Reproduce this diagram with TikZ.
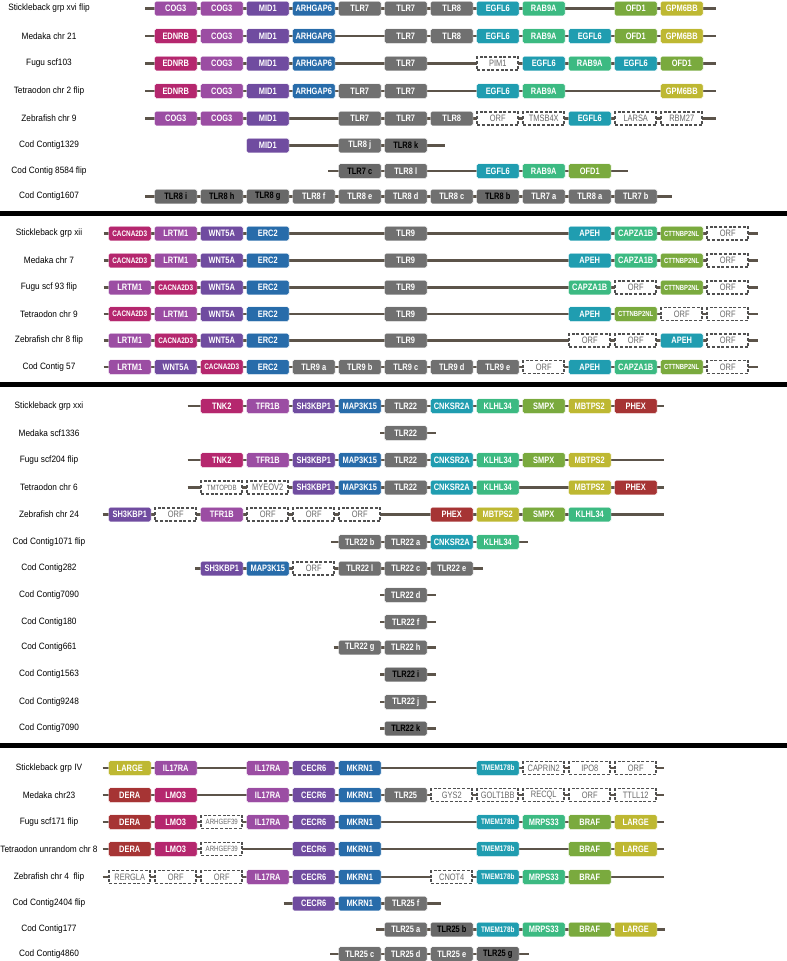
\documentclass[tikz,border=0pt]{standalone}
\usepackage{fontspec}
\setmainfont{Liberation Sans}
\newfontfamily\genefont[FakeStretch=0.8]{Liberation Sans}
\newfontfamily\rowfont[FakeStretch=0.9]{Liberation Sans}
\usepackage{tikz}
\usetikzlibrary{positioning}
\definecolor{genepink}{RGB}{181,39,110}
\definecolor{genepurple}{RGB}{155,77,163}
\definecolor{geneviolet}{RGB}{112,76,160}
\definecolor{geneblue}{RGB}{40,108,170}
\definecolor{genegray}{RGB}{112,112,112}
\definecolor{genedark}{RGB}{104,104,104}
\definecolor{geneteal}{RGB}{32,157,176}
\definecolor{genemint}{RGB}{60,186,130}
\definecolor{genegreen}{RGB}{122,170,62}
\definecolor{geneolive}{RGB}{190,184,50}
\definecolor{genered}{RGB}{166,52,52}
\definecolor{orfline}{RGB}{80,80,80}
\definecolor{orftext}{RGB}{105,105,105}
\definecolor{chromline}{RGB}{92,84,74}
\tikzset{
  gene/.style={rectangle, rounded corners=1.5pt, minimum width=42.5pt,
    minimum height=14.5pt, inner sep=0pt, draw=white, line width=0.4pt,
    text=white, font=\genefont\bfseries\fontsize{9.3}{10}\selectfont},
  gpk/.style={fill=genepink},
  gpks/.style={fill=genepink, font=\genefont\bfseries\fontsize{8}{9}\selectfont},
  gpu/.style={fill=genepurple},
  gvi/.style={fill=geneviolet},
  gbl/.style={fill=geneblue},
  ggy/.style={fill=genegray},
  gdk/.style={fill=genedark, text=black},
  gte/.style={fill=geneteal},
  gtes/.style={fill=geneteal, font=\genefont\bfseries\fontsize{8}{9}\selectfont},
  gmi/.style={fill=genemint},
  ggr/.style={fill=genegreen},
  ggrs/.style={fill=genegreen, font=\genefont\bfseries\fontsize{7.4}{8}\selectfont},
  gol/.style={fill=geneolive},
  grd/.style={fill=genered},
  gorf/.style={fill=white, draw=orfline, line width=1.7pt, dash pattern=on 3pt off 1.7pt,
    rounded corners=0pt, minimum width=41pt, minimum height=12.8pt, text=orftext,
    font=\genefont\fontsize{9.3}{10}\selectfont},
  gorfs/.style={gorf, font=\genefont\fontsize{7.6}{8}\selectfont},
  chrom/.style={draw=chromline, line width=2.8pt},
  divider/.style={draw=black, line width=5pt},
  lbl/.style={font=\rowfont\fontsize{9.2}{10}\selectfont, text=black}
}
% one chromosome row: id, y, west end, east end, label, slot/gene/style list
\newcommand{\generow}[6]{%
  \node[lbl] (#1) at (49,#2) {#5};
  \coordinate (#1w) at (#3,#2);
  \coordinate (#1e) at (#4,#2);
  \draw[chrom] (#1w) -- (#1e);
  \foreach \pos/\gname/\gstyle [count=\i] in {#6}
    \node[gene,\gstyle] (#1g\i) at ({175.75+46*\pos},#2) {\gname};
}

\begin{document}
\begin{tikzpicture}[x=1pt, y=-1pt]
  \useasboundingbox (0,0) rectangle (787,961);

  % TLR7 / TLR8 region
  \generow{stxvi}{8.5}{145}{716}{Stickleback grp xvi flip}{0/COG3/gpu, 1/COG3/gpu, 2/MID1/gvi, 3/ARHGAP6/gbl, 4/TLR7/ggy, 5/TLR7/ggy, 6/TLR8/ggy, 7/EGFL6/gte, 8/RAB9A/gmi, 10/OFD1/ggr, 11/GPM6BB/gol}
  \generow{mechr21}{36}{145}{716}{Medaka chr 21}{0/EDNRB/gpk, 1/COG3/gpu, 2/MID1/gvi, 3/ARHGAP6/gbl, 5/TLR7/ggy, 6/TLR8/ggy, 7/EGFL6/gte, 8/RAB9A/gmi, 9/EGFL6/gte, 10/OFD1/ggr, 11/GPM6BB/gol}
  \generow{fuscf103}{63.5}{145}{716}{Fugu scf103}{0/EDNRB/gpk, 1/COG3/gpu, 2/MID1/gvi, 3/ARHGAP6/gbl, 5/TLR7/ggy, 7/PIM1/gorf, 8/EGFL6/gte, 9/RAB9A/gmi, 10/EGFL6/gte, 11/OFD1/ggr}
  \generow{techr2}{91}{145}{716}{Tetraodon chr 2 flip}{0/EDNRB/gpk, 1/COG3/gpu, 2/MID1/gvi, 3/ARHGAP6/gbl, 4/TLR7/ggy, 5/TLR7/ggy, 7/EGFL6/gte, 8/RAB9A/gmi, 11/GPM6BB/gol}
  \generow{zechr9}{118.5}{145}{716}{Zebrafish chr 9}{0/COG3/gpu, 1/COG3/gpu, 2/MID1/gvi, 4/TLR7/ggy, 5/TLR7/ggy, 6/TLR8/ggy, 7/ORF/gorf, 8/TMSB4X/gorf, 9/EGFL6/gte, 10/LARSA/gorf, 11/RBM27/gorf}
  \generow{co1329}{145.5}{247}{445}{Cod Contig1329}{2/MID1/gvi, 4/TLR8 j/ggy, 5/TLR8 k/gdk}
  \generow{co8584}{171}{328}{628}{Cod Contig 8584 flip}{4/TLR7 c/gdk, 5/TLR8 l/ggy, 7/EGFL6/gte, 8/RAB9A/gmi, 9/OFD1/ggr}
  \generow{co1607}{196.5}{145}{672}{Cod Contig1607}{0/TLR8 i/gdk, 1/TLR8 h/gdk, 2/TLR8 g/gdk, 3/TLR8 f/ggy, 4/TLR8 e/ggy, 5/TLR8 d/ggy, 6/TLR8 c/ggy, 7/TLR8 b/gdk, 8/TLR7 a/ggy, 9/TLR8 a/ggy, 10/TLR7 b/ggy}

  \coordinate (div1w) at (0,213.5);
  \coordinate (div1e) at (787,213.5);
  \draw[divider] (div1w) -- (div1e);

  % TLR9 region
  \generow{stxii}{233.5}{103.5}{757.5}{Stickleback grp xii}{-1/CACNA2D3/gpks, 0/LRTM1/gpu, 1/WNT5A/gvi, 2/ERC2/gbl, 5/TLR9/ggy, 9/APEH/gte, 10/CAPZA1B/gmi, 11/CTTNBP2NL/ggrs, 12/ORF/gorf}
  \generow{mechr7}{260.5}{103.5}{757.5}{Medaka chr 7}{-1/CACNA2D3/gpks, 0/LRTM1/gpu, 1/WNT5A/gvi, 2/ERC2/gbl, 5/TLR9/ggy, 9/APEH/gte, 10/CAPZA1B/gmi, 11/CTTNBP2NL/ggrs, 12/ORF/gorf}
  \generow{fuscf93}{287.5}{103.5}{757.5}{Fugu scf 93 flip}{-1/LRTM1/gpu, 0/CACNA2D3/gpks, 1/WNT5A/gvi, 2/ERC2/gbl, 5/TLR9/ggy, 9/CAPZA1B/gmi, 10/ORF/gorf, 11/CTTNBP2NL/ggrs, 12/ORF/gorf}
  \generow{techr9}{314}{103.5}{757.5}{Tetraodon chr 9}{-1/CACNA2D3/gpks, 0/LRTM1/gpu, 1/WNT5A/gvi, 2/ERC2/gbl, 5/TLR9/ggy, 9/APEH/gte, 10/CTTNBP2NL/ggrs, 11/ORF/gorf, 12/ORF/gorf}
  \generow{zechr8}{340.5}{103.5}{757.5}{Zebrafish chr 8 flip}{-1/LRTM1/gpu, 0/CACNA2D3/gpks, 1/WNT5A/gvi, 2/ERC2/gbl, 5/TLR9/ggy, 9/ORF/gorf, 10/ORF/gorf, 11/APEH/gte, 12/ORF/gorf}
  \generow{co57}{367}{103.5}{757.5}{Cod Contig 57}{-1/LRTM1/gpu, 0/WNT5A/gvi, 1/CACNA2D3/gpks, 2/ERC2/gbl, 3/TLR9 a/ggy, 4/TLR9 b/ggy, 5/TLR9 c/ggy, 6/TLR9 d/ggy, 7/TLR9 e/ggy, 8/ORF/gorf, 9/APEH/gte, 10/CAPZA1B/gmi, 11/CTTNBP2NL/ggrs, 12/ORF/gorf}

  \coordinate (div2w) at (0,384);
  \coordinate (div2e) at (787,384);
  \draw[divider] (div2w) -- (div2e);

  % TLR22 region
  \generow{stxxi}{406}{187.5}{664}{Stickleback grp xxi}{1/TNK2/gpk, 2/TFR1B/gpu, 3/SH3KBP1/gvi, 4/MAP3K15/gbl, 5/TLR22/ggy, 6/CNKSR2A/gte, 7/KLHL34/gmi, 8/SMPX/ggr, 9/MBTPS2/gol, 10/PHEX/grd}
  \generow{mescf1336}{433}{380}{436}{Medaka scf1336}{5/TLR22/ggy}
  \generow{fuscf204}{460}{187.5}{664}{Fugu scf204 flip}{1/TNK2/gpk, 2/TFR1B/gpu, 3/SH3KBP1/gvi, 4/MAP3K15/gbl, 5/TLR22/ggy, 6/CNKSR2A/gte, 7/KLHL34/gmi, 8/SMPX/ggr, 9/MBTPS2/gol}
  \generow{techr6}{487.5}{187.5}{664}{Tetraodon chr 6}{1/TMTOPDB/gorfs, 2/MYEOV2/gorf, 3/SH3KBP1/gvi, 4/MAP3K15/gbl, 5/TLR22/ggy, 6/CNKSR2A/gte, 7/KLHL34/gmi, 9/MBTPS2/gol, 10/PHEX/grd}
  \generow{zechr24}{514.5}{102.5}{664}{Zebrafish chr 24}{-1/SH3KBP1/gvi, 0/ORF/gorf, 1/TFR1B/gpu, 2/ORF/gorf, 3/ORF/gorf, 4/ORF/gorf, 6/PHEX/grd, 7/MBTPS2/gol, 8/SMPX/ggr, 9/KLHL34/gmi}
  \generow{co1071}{542}{331}{527.5}{Cod Contig1071 flip}{4/TLR22 b/ggy, 5/TLR22 a/ggy, 6/CNKSR2A/gte, 7/KLHL34/gmi}
  \generow{co282}{568.5}{195}{482.5}{Cod Contig282}{1/SH3KBP1/gvi, 2/MAP3K15/gbl, 3/ORF/gorf, 4/TLR22 l/ggy, 5/TLR22 c/ggy, 6/TLR22 e/ggy}
  \generow{co7090a}{595}{380}{436}{Cod Contig7090}{5/TLR22 d/ggy}
  \generow{co180}{622}{380}{436}{Cod Contig180}{5/TLR22 f/ggy}
  \generow{co661}{647.5}{333.5}{436}{Cod Contig661}{4/TLR22 g/ggy, 5/TLR22 h/ggy}
  \generow{co1563}{674.5}{380}{436}{Cod Contig1563}{5/TLR22 i/gdk}
  \generow{co9248}{702}{380}{436}{Cod Contig9248}{5/TLR22 j/ggy}
  \generow{co7090b}{728.5}{380}{436}{Cod Contig7090}{5/TLR22 k/gdk}

  \coordinate (div3w) at (0,745);
  \coordinate (div3e) at (787,745);
  \draw[divider] (div3w) -- (div3e);

  % TLR25 region
  \generow{stiv}{768}{102.5}{664}{Stickleback grp IV}{-1/LARGE/gol, 0/IL17RA/gpu, 2/IL17RA/gpu, 3/CECR6/gvi, 4/MKRN1/gbl, 7/TMEM178b/gtes, 8/CAPRIN2/gorf, 9/IPO8/gorf, 10/ORF/gorf}
  \generow{mechr23}{795}{102.5}{664}{Medaka chr23}{-1/DERA/grd, 0/LMO3/gpk, 2/IL17RA/gpu, 3/CECR6/gvi, 4/MKRN1/gbl, 5/TLR25/ggy, 6/GYS2/gorf, 7/GOLT1BB/gorf, 8/RECQL/gorf, 9/ORF/gorf, 10/TTLL12/gorf}
  \generow{fuscf171}{822}{102.5}{664}{Fugu scf171 flip}{-1/DERA/grd, 0/LMO3/gpk, 1/ARHGEF39/gorfs, 2/IL17RA/gpu, 3/CECR6/gvi, 4/MKRN1/gbl, 7/TMEM178b/gtes, 8/MRPS33/gmi, 9/BRAF/ggr, 10/LARGE/gol}
  \generow{techr8}{849}{102.5}{664}{Tetraodon unrandom chr 8}{-1/DERA/grd, 0/LMO3/gpk, 1/ARHGEF39/gorfs, 3/CECR6/gvi, 4/MKRN1/gbl, 7/TMEM178b/gtes, 9/BRAF/ggr, 10/LARGE/gol}
  \generow{zechr4}{877}{102.5}{664}{Zebrafish chr 4\ \ flip}{-1/RERGLA/gorf, 0/ORF/gorf, 1/ORF/gorf, 2/IL17RA/gpu, 3/CECR6/gvi, 4/MKRN1/gbl, 6/CNOT4/gorf, 7/TMEM178b/gtes, 8/MRPS33/gmi, 9/BRAF/ggr}
  \generow{co2404}{903.5}{283.5}{441}{Cod Contig2404 flip}{3/CECR6/gvi, 4/MKRN1/gbl, 5/TLR25 f/ggy}
  \generow{co177}{929.5}{376}{665}{Cod Contig177}{5/TLR25 a/ggy, 6/TLR25 b/gdk, 7/TMEM178b/gtes, 8/MRPS33/gmi, 9/BRAF/ggr, 10/LARGE/gol}
  \generow{co4860}{954}{330}{529}{Cod Contig4860}{4/TLR25 c/ggy, 5/TLR25 d/ggy, 6/TLR25 e/ggy, 7/TLR25 g/gdk}
\end{tikzpicture}
\end{document}
